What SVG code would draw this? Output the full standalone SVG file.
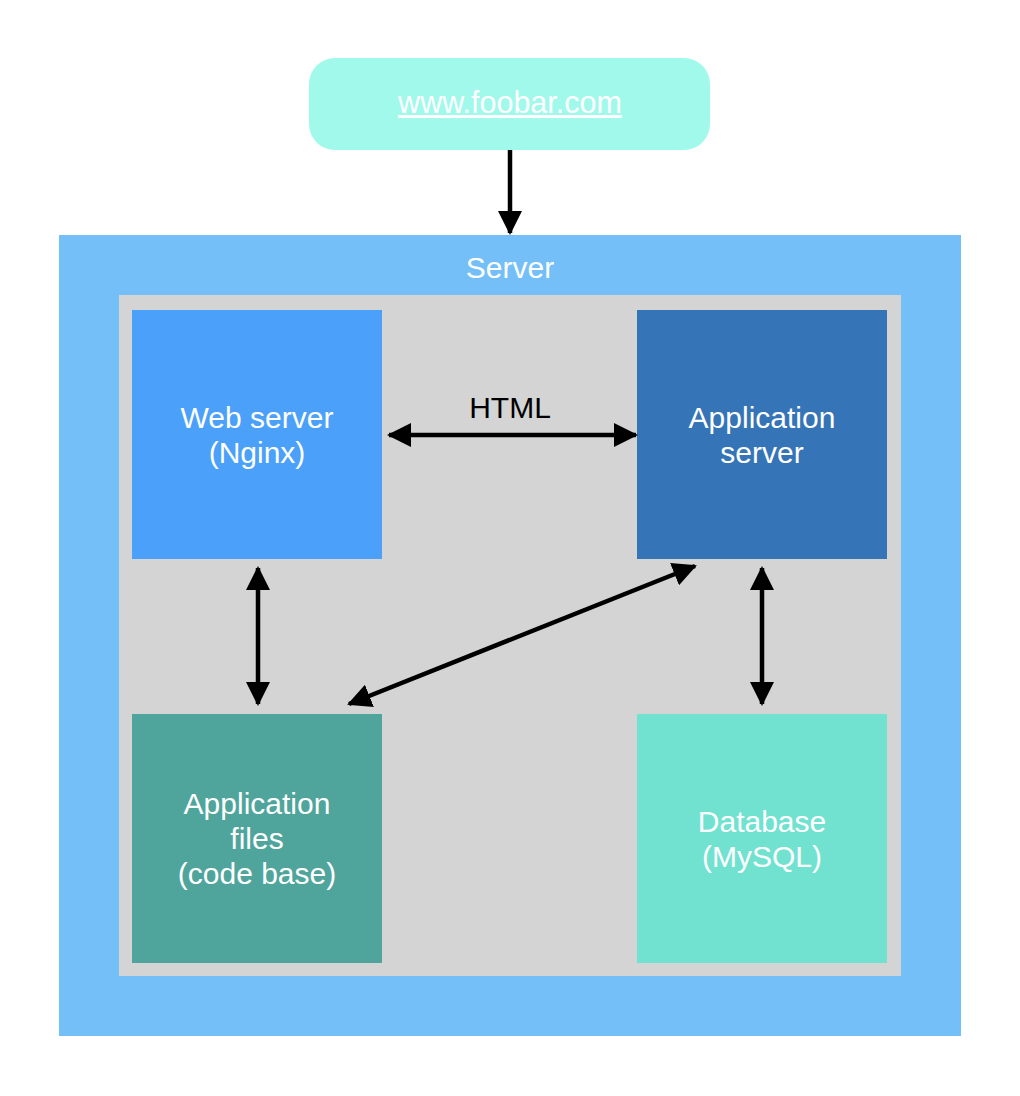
<svg xmlns="http://www.w3.org/2000/svg" width="1020" height="1096" viewBox="0 0 1020 1096">
<style>
text{font-family:"Liberation Sans",Arial,Helvetica,sans-serif;font-size:30px;text-anchor:middle}
.w{fill:#ffffff}
.k{fill:#000000}
.c{stroke:#000;stroke-width:4.5;fill:none}
</style>
<defs>
<marker id="ah" viewBox="0 0 24 24" refX="22" refY="12" markerWidth="24" markerHeight="24" markerUnits="userSpaceOnUse" orient="auto-start-reverse">
<path d="M0,0 L24,12 L0,24 Z" fill="#000"/>
</marker>
</defs>
<rect width="1020" height="1096" fill="#fff"/>
<g id="site">
<rect x="309" y="58" width="401" height="92" rx="26" fill="#A0F9EA"/>
<text x="510" y="113" class="w" style="font-size:30.5px" text-decoration="underline">www.foobar.com</text>
</g>
<g id="server">
<rect x="59" y="235" width="902" height="801" fill="#74BFF8"/>
<text x="510" y="278" class="w">Server</text>
<rect x="119" y="295" width="782" height="681" fill="#D4D4D4"/>
</g>
<g id="webserver">
<rect x="132" y="310" width="250" height="249" fill="#4BA0FA"/>
<text x="257" y="428" class="w">Web server</text>
<text x="257" y="463" class="w">(Nginx)</text>
</g>
<g id="appserver">
<rect x="637" y="310" width="250" height="249" fill="#3574B6"/>
<text x="762" y="428" class="w">Application</text>
<text x="762" y="463" class="w">server</text>
</g>
<g id="appfiles">
<rect x="132" y="714" width="250" height="249" fill="#4FA59B"/>
<text x="257" y="814" class="w">Application</text>
<text x="257" y="849" class="w">files</text>
<text x="257" y="884" class="w">(code base)</text>
</g>
<g id="database">
<rect x="637" y="714" width="250" height="249" fill="#72E2D0"/>
<text x="762" y="832" class="w">Database</text>
<text x="762" y="867" class="w">(MySQL)</text>
</g>
<g id="connectors">
<line x1="510" y1="150" x2="510" y2="233" class="c" marker-end="url(#ah)"/>
<line x1="389" y1="435" x2="636" y2="435" class="c" marker-start="url(#ah)" marker-end="url(#ah)"/>
<text x="510" y="418" class="k">HTML</text>
<line x1="258" y1="568" x2="258" y2="704" class="c" marker-start="url(#ah)" marker-end="url(#ah)"/>
<line x1="762" y1="568" x2="762" y2="704" class="c" marker-start="url(#ah)" marker-end="url(#ah)"/>
<line x1="349" y1="704" x2="695" y2="566" class="c" marker-start="url(#ah)" marker-end="url(#ah)"/>
</g>
</svg>
